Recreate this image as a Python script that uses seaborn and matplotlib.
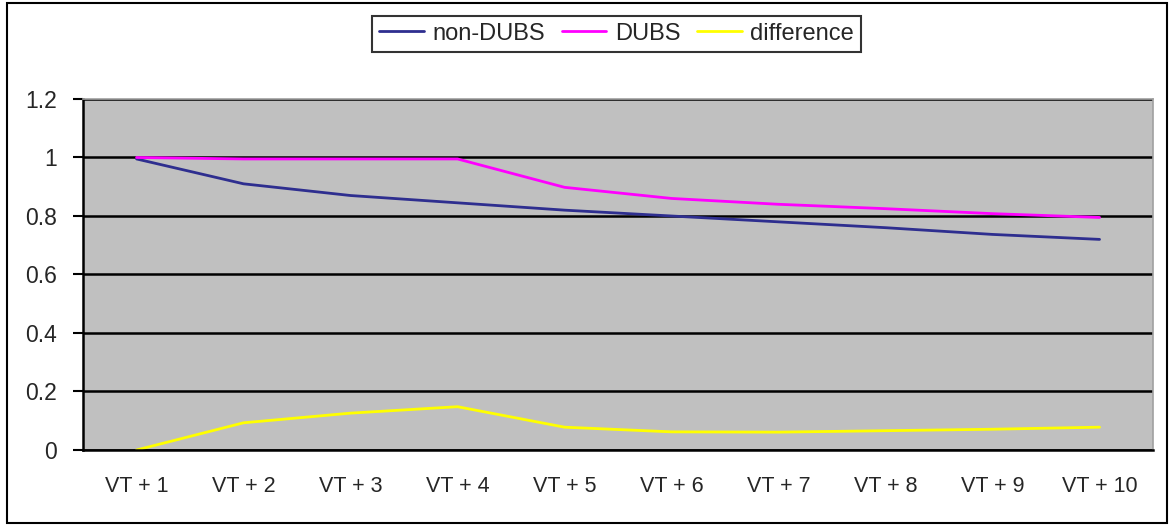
import pandas as pd
import matplotlib
matplotlib.use("Agg")
import matplotlib.pyplot as plt
import seaborn as sns
from matplotlib.patches import Rectangle

# values
steps = ["VT + 1", "VT + 2", "VT + 3", "VT + 4", "VT + 5",
         "VT + 6", "VT + 7", "VT + 8", "VT + 9", "VT + 10"]
non_dubs = [0.995, 0.91, 0.87, 0.845, 0.82, 0.80, 0.78, 0.76, 0.737, 0.72]
dubs = [1.0, 0.995, 0.995, 0.995, 0.898, 0.86, 0.84, 0.825, 0.808, 0.795]
difference = [0.0, 0.093, 0.126, 0.148, 0.078, 0.062, 0.061, 0.066, 0.071, 0.078]

df = pd.DataFrame({
    "step": steps * 3,
    "value": non_dubs + dubs + difference,
    "series": ["non-DUBS"] * 10 + ["DUBS"] * 10 + ["difference"] * 10,
})

sns.set_style("white")
plt.rcParams["font.family"] = ["Liberation Sans", "DejaVu Sans"]

fig = plt.figure(figsize=(11.73, 5.26), dpi=100)
ax = fig.add_axes([0.0708, 0.1445, 0.9122, 0.6673])
ax.set_facecolor("#c0c0c0")

palette = {"non-DUBS": "#2e2e8f", "DUBS": "#ff00ff", "difference": "#ffff00"}
sns.lineplot(data=df, x="step", y="value", hue="series", palette=palette,
             linewidth=2, ax=ax, sort=False)

ax.set_xlim(-0.5, 9.5)
ax.set_ylim(0, 1.2)
ax.set_yticks([0, 0.2, 0.4, 0.6, 0.8, 1.0, 1.2])
ax.set_yticklabels(["0", "0.2", "0.4", "0.6", "0.8", "1", "1.2"])
ax.yaxis.grid(True, color="black", linewidth=1.8)
ax.set_axisbelow(True)

# ticks at category boundaries, labels at centres
ax.set_xticks([i - 0.5 for i in range(11)])
ax.set_xticklabels([])
ax.set_xticks(range(10), minor=True)
ax.set_xticklabels(steps, minor=True)
ax.tick_params(axis="x", which="major", length=7, width=1.5, color="black", direction="out")
ax.tick_params(axis="x", which="minor", length=0, pad=19, labelsize=15.5)
ax.tick_params(axis="y", length=7, width=1.5, color="black", direction="out",
               left=True, pad=12, labelsize=16.5)
ax.set_xlabel("")
ax.set_ylabel("")

for side in ["left", "bottom"]:
    ax.spines[side].set_color("black")
    ax.spines[side].set_linewidth(1.8)
for side in ["top", "right"]:
    ax.spines[side].set_color("#a0a0a0")
    ax.spines[side].set_linewidth(1.2)

handles, labels = ax.get_legend_handles_labels()
ax.get_legend().remove()
leg = fig.legend(handles, labels, loc="center", bbox_to_anchor=(0.5255, 0.936),
                 ncol=3, fontsize=17, frameon=True, fancybox=False,
                 handlelength=1.9, handletextpad=0.35, columnspacing=0.7,
                 borderpad=0.3)
leg.get_frame().set_edgecolor("black")
leg.get_frame().set_linewidth(1.5)

fig.patches.append(Rectangle((0.006, 0.006), 0.989, 0.988, transform=fig.transFigure,
                             fill=False, edgecolor="black", linewidth=1.5))

fig.savefig("out.png", dpi=100)
